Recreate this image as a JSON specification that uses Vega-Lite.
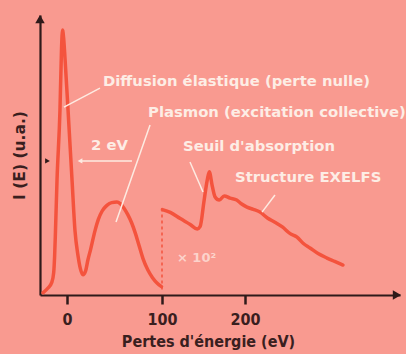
{
  "$schema": "https://vega.github.io/schema/vega-lite/v6.json",
  "width": 360,
  "height": 280,
  "autosize": {"type": "none"},
  "padding": {"left": 40, "top": 15, "right": 6, "bottom": 59},
  "background": "#F99A90",
  "config": {
    "view": {"stroke": null},
    "font": "DejaVu Sans Condensed"
  },
  "datasets": {
    "curve": [
      {"seg": "A", "ev": -25.3, "I": 0.8}, {"seg": "A", "ev": -20, "I": 2.5}, {"seg": "A", "ev": -16, "I": 4.5},
      {"seg": "A", "ev": -14, "I": 8}, {"seg": "A", "ev": -13, "I": 14}, {"seg": "A", "ev": -12.1, "I": 23},
      {"seg": "A", "ev": -10.5, "I": 41}, {"seg": "A", "ev": -7.4, "I": 66}, {"seg": "A", "ev": -5.8, "I": 87.5},
      {"seg": "A", "ev": -4.7, "I": 94.6}, {"seg": "A", "ev": -3.6, "I": 92}, {"seg": "A", "ev": -2, "I": 84},
      {"seg": "A", "ev": 1.1, "I": 66}, {"seg": "A", "ev": 5.3, "I": 41}, {"seg": "A", "ev": 8.4, "I": 23},
      {"seg": "A", "ev": 11.6, "I": 14}, {"seg": "A", "ev": 14, "I": 9.5}, {"seg": "A", "ev": 16.8, "I": 7.2},
      {"seg": "A", "ev": 19.5, "I": 8.5}, {"seg": "A", "ev": 22, "I": 12.5}, {"seg": "A", "ev": 25, "I": 16.5},
      {"seg": "A", "ev": 29.5, "I": 23}, {"seg": "A", "ev": 33, "I": 27}, {"seg": "A", "ev": 37, "I": 30},
      {"seg": "A", "ev": 42, "I": 32}, {"seg": "A", "ev": 47, "I": 33}, {"seg": "A", "ev": 52.6, "I": 33.2},
      {"seg": "A", "ev": 56, "I": 32.6}, {"seg": "A", "ev": 60, "I": 31}, {"seg": "A", "ev": 64, "I": 28.7},
      {"seg": "A", "ev": 68, "I": 25.8}, {"seg": "A", "ev": 72, "I": 22}, {"seg": "A", "ev": 76, "I": 17.5},
      {"seg": "A", "ev": 80, "I": 13}, {"seg": "A", "ev": 85, "I": 9}, {"seg": "A", "ev": 90, "I": 6.2},
      {"seg": "A", "ev": 95, "I": 4.2}, {"seg": "A", "ev": 99.5, "I": 3},
      {"seg": "B", "ev": 100.5, "I": 30.5}, {"seg": "B", "ev": 110, "I": 29.5}, {"seg": "B", "ev": 122, "I": 27.3},
      {"seg": "B", "ev": 134, "I": 25.2}, {"seg": "B", "ev": 142.5, "I": 23.6}, {"seg": "B", "ev": 146, "I": 24.5},
      {"seg": "B", "ev": 150.6, "I": 33.5}, {"seg": "B", "ev": 154.5, "I": 41}, {"seg": "B", "ev": 157, "I": 44},
      {"seg": "B", "ev": 160.5, "I": 39}, {"seg": "B", "ev": 164, "I": 35}, {"seg": "B", "ev": 169, "I": 33.9},
      {"seg": "B", "ev": 175, "I": 35.4}, {"seg": "B", "ev": 182, "I": 34.6}, {"seg": "B", "ev": 190, "I": 33.9},
      {"seg": "B", "ev": 196, "I": 32.5}, {"seg": "B", "ev": 202.4, "I": 31.4}, {"seg": "B", "ev": 210, "I": 30.6},
      {"seg": "B", "ev": 218, "I": 29.6}, {"seg": "B", "ev": 227, "I": 27.5}, {"seg": "B", "ev": 236, "I": 26},
      {"seg": "B", "ev": 245, "I": 24.3}, {"seg": "B", "ev": 254, "I": 22}, {"seg": "B", "ev": 262.7, "I": 20.7},
      {"seg": "B", "ev": 270, "I": 18.5}, {"seg": "B", "ev": 278.3, "I": 16.8}, {"seg": "B", "ev": 288, "I": 14.8},
      {"seg": "B", "ev": 298.8, "I": 13.2}, {"seg": "B", "ev": 308, "I": 12}, {"seg": "B", "ev": 318, "I": 10.7}
    ],
    "leaders": [
      {"ev": 34.7, "I": 73.9, "ev2": -3.2, "I2": 67.1},
      {"ev": 87.4, "I": 60.7, "ev2": 51.6, "I2": 26.1},
      {"ev": 68.4, "I": 47.9, "ev2": 13.7, "I2": 47.9},
      {"ev": 133.7, "I": 47.5, "ev2": 149.4, "I2": 36.8},
      {"ev": 236.1, "I": 35.7, "ev2": 220.5, "I2": 29.6}
    ],
    "labels": [
      {"ev": 37.9, "I": 76.1, "text": "Diffusion élastique (perte nulle)"},
      {"ev": 85.3, "I": 65, "text": "Plasmon (excitation collective)"},
      {"ev": 25.3, "I": 53.2, "text": "2 eV"},
      {"ev": 125.3, "I": 52.9, "text": "Seuil d'absorption"},
      {"ev": 188, "I": 41.8, "text": "Structure EXELFS"}
    ],
    "arrows": [
      {"name": "ytop", "ev": -28.4, "I": 98.5},
      {"name": "xend", "ev": 383, "I": 0},
      {"name": "white", "ev": 13.7, "I": 47.9},
      {"name": "dark", "ev": -20.5, "I": 47.9}
    ]
  },
  "layer": [
    {
      "data": {"name": "curve"},
      "mark": {"type": "line", "color": "#F4533D", "strokeWidth": 3.5, "strokeCap": "round", "strokeJoin": "round", "interpolate": "monotone"},
      "encoding": {
        "x": {
          "field": "ev", "type": "quantitative",
          "scale": {"domain": [-28.4, 0, 100, 200, 386.7], "range": [0, 27, 122, 205, 360], "nice": false, "zero": false},
          "axis": {
            "values": [0, 100, 200], "format": "d",
            "domainColor": "#2E1A1A", "domainWidth": 2.2,
            "tickColor": "#2E1A1A", "tickWidth": 2.5, "tickSize": 9,
            "labelFont": "DejaVu Sans Condensed", "labelFontWeight": "bold", "labelFontSize": 16, "labelColor": "#3A1F1F", "labelPadding": 7,
            "grid": false,
            "title": "Pertes d'énergie (eV)", "titleFont": "DejaVu Sans Condensed", "titleFontWeight": "bold", "titleFontSize": 16, "titleColor": "#3A1F1F", "titlePadding": 6, "titleX": 168
          }
        },
        "y": {
          "field": "I", "type": "quantitative",
          "scale": {"domain": [0, 100], "nice": false, "zero": true},
          "axis": {
            "domainColor": "#2E1A1A", "domainWidth": 2.2, "ticks": false, "labels": false, "grid": false,
            "title": "I (E) (u.a.)", "titleFont": "DejaVu Sans", "titleFontWeight": "bold", "titleFontSize": 15.5, "titleColor": "#3A1F1F", "titlePadding": 13
          }
        },
        "detail": {"field": "seg"}
      }
    },
    {
      "data": {"values": [{"ev": 100, "I": 2, "I2": 30}]},
      "mark": {"type": "rule", "color": "#F4533D", "strokeWidth": 1.5, "strokeDash": [3, 3]},
      "encoding": {
        "x": {"field": "ev", "type": "quantitative"},
        "y": {"field": "I", "type": "quantitative"},
        "y2": {"field": "I2"}
      }
    },
    {
      "data": {"name": "leaders"},
      "mark": {"type": "rule", "color": "#FDEBE2", "strokeWidth": 1.5},
      "encoding": {
        "x": {"field": "ev", "type": "quantitative"},
        "y": {"field": "I", "type": "quantitative"},
        "x2": {"field": "ev2"},
        "y2": {"field": "I2"}
      }
    },
    {
      "data": {"name": "labels"},
      "mark": {"type": "text", "align": "left", "baseline": "middle", "font": "DejaVu Sans", "fontWeight": "bold", "fontSize": 14.8, "color": "#FDEDE5"},
      "encoding": {
        "x": {"field": "ev", "type": "quantitative"},
        "y": {"field": "I", "type": "quantitative"},
        "text": {"field": "text"}
      }
    },
    {
      "data": {"values": [{"ev": 118, "I": 13.2, "text": "× 10²"}]},
      "mark": {"type": "text", "align": "left", "baseline": "middle", "font": "DejaVu Sans", "fontWeight": "bold", "fontSize": 13, "color": "#FCD3CB"},
      "encoding": {
        "x": {"field": "ev", "type": "quantitative"},
        "y": {"field": "I", "type": "quantitative"},
        "text": {"field": "text"}
      }
    },
    {
      "data": {"name": "arrows"},
      "transform": [{"filter": "datum.name === 'ytop'"}],
      "mark": {"type": "point", "shape": "triangle-up", "filled": true, "color": "#2E1A1A", "size": 90, "opacity": 1},
      "encoding": {"x": {"field": "ev", "type": "quantitative"}, "y": {"field": "I", "type": "quantitative"}}
    },
    {
      "data": {"name": "arrows"},
      "transform": [{"filter": "datum.name === 'xend'"}],
      "mark": {"type": "point", "shape": "triangle-right", "filled": true, "color": "#2E1A1A", "size": 90, "opacity": 1},
      "encoding": {"x": {"field": "ev", "type": "quantitative"}, "y": {"field": "I", "type": "quantitative"}}
    },
    {
      "data": {"name": "arrows"},
      "transform": [{"filter": "datum.name === 'white'"}],
      "mark": {"type": "point", "shape": "triangle-left", "filled": true, "color": "#FDEBE2", "size": 30, "opacity": 1},
      "encoding": {"x": {"field": "ev", "type": "quantitative"}, "y": {"field": "I", "type": "quantitative"}}
    },
    {
      "data": {"name": "arrows"},
      "transform": [{"filter": "datum.name === 'dark'"}],
      "mark": {"type": "point", "shape": "triangle-right", "filled": true, "color": "#2E1A1A", "size": 30, "opacity": 1},
      "encoding": {"x": {"field": "ev", "type": "quantitative"}, "y": {"field": "I", "type": "quantitative"}}
    }
  ]
}
